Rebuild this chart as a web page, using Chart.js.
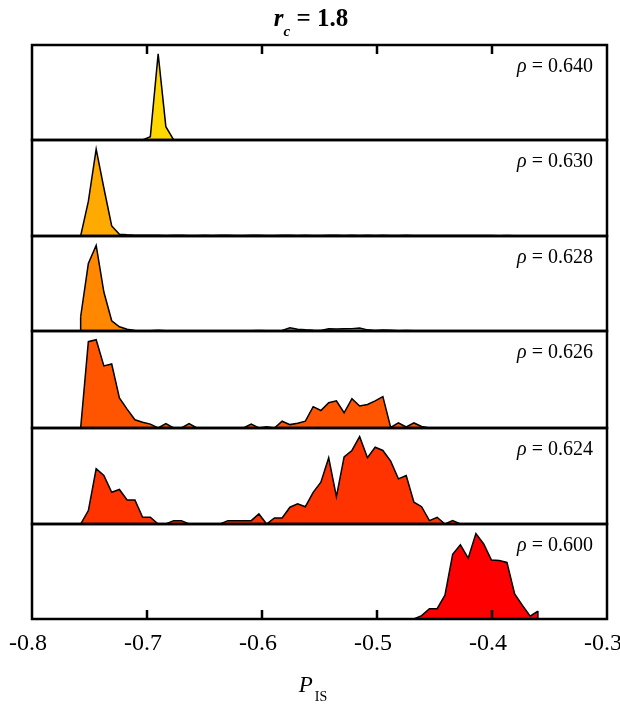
<!DOCTYPE html>
<html>
<head>
<meta charset="utf-8">
<title>P_IS distributions, r_c = 1.8</title>
<script src="https://cdn.jsdelivr.net/npm/chart.js@4.4.1/dist/chart.umd.min.js"></script>
<style>
  html, body { margin: 0; padding: 0; background: #ffffff; }
  #stack { position: relative; width: 620px; height: 705px; overflow: hidden; background: #ffffff; }
  #stack canvas { position: absolute; left: 0; }
</style>
</head>
<body>
<div id="stack"></div>
<script>
// Bin centres of the P_IS histograms (shared by every panel)
const binCenters = [
  -0.7577, -0.7510, -0.7442, -0.7375, -0.7307, -0.7240, -0.7173, -0.7105, -0.7038, -0.6971,
  -0.6903, -0.6836, -0.6768, -0.6701, -0.6634, -0.6566, -0.6499, -0.6431, -0.6364, -0.6297,
  -0.6229, -0.6162, -0.6094, -0.6027, -0.5960, -0.5892, -0.5825, -0.5757, -0.5690, -0.5623,
  -0.5555, -0.5488, -0.5420, -0.5353, -0.5286, -0.5218, -0.5151, -0.5083, -0.5016, -0.4949,
  -0.4881, -0.4814, -0.4746, -0.4679, -0.4612, -0.4544, -0.4477, -0.4409, -0.4342, -0.4275,
  -0.4207, -0.4140, -0.4072, -0.4005, -0.3938, -0.3870, -0.3803, -0.3735, -0.3668, -0.3601
];

// Relative frequency per bin, one array per density
const rho640 = [
  0, 0, 0, 0, 0, 0, 0, 0, 0, 3.5,
  90.6, 14, 0, 0, 0, 0, 0, 0, 0, 0,
  0, 0, 0, 0, 0, 0, 0, 0, 0, 0,
  0, 0, 0, 0, 0, 0, 0, 0, 0, 0,
  0, 0, 0, 0, 0, 0, 0, 0, 0, 0,
  0, 0, 0, 0, 0, 0, 0, 0, 0, 0
];
const rho630 = [
  0, 36, 90.5, 50, 10.5, 1.8, 1.2, 0.9, 0.8, 0.7,
  0.8, 0.6, 0.7, 0.8, 0.6, 0.5, 0.7, 0.6, 0.8, 0.7,
  0.5, 0.6, 0.8, 0.7, 0.6, 0.5, 0.7, 0.8, 0.6, 0.7,
  0.5, 0.6, 0.8, 0.7, 0.6, 0.7, 0.5, 0.7, 0.6, 0.8,
  0.5, 0.6, 0.7, 0.5, 0.6, 0.5, 0.4, 0.5, 0.6, 0.4,
  0.5, 0.4, 0.5, 0.4, 0.3, 0.4, 0.3, 0.3, 0.2, 0
];
const rho628 = [
  15, 71, 90, 41, 10.8, 4.5, 1.8, 0.6, 0.3, 0.3,
  0.8, 0.3, 0.2, 0.1, 0.1, 0.2, 0.1, 0.1, 0.2, 0.1,
  0.1, 0.2, 0.3, 0.6, 0.3, 0.2, 0.5, 3.5, 1.8, 1.2,
  0.8, 0.6, 2.4, 2.1, 2.3, 2.5, 3.1, 1.2, 0.6, 1.0,
  0.8, 0.3, 0.5, 0.2, 0.1, 0, 0, 0, 0, 0,
  0, 0, 0, 0, 0, 0, 0, 0, 0, 0
];
const rho626 = [
  0, 89, 91, 64, 66, 31, 19.5, 8.5, 6, 4,
  0, 4.5, 0, 0, 4.5, 0, 0, 0, 0, 0,
  0, 0, 4, 0, 1.4, 0, 7, 3.5, 5, 7,
  22, 18, 26, 28, 15.7, 30.3, 22.7, 24.3, 28, 32.4,
  0.7, 5.2, 1, 5.2, 1.5, 0, 0, 0, 0, 0,
  0, 0, 0, 0, 0, 0, 0, 0, 0, 0
];
const rho624 = [
  0, 14, 57.5, 50.5, 33, 36, 25, 25, 7, 7,
  0, 0, 3.5, 3.5, 0, 0, 0, 0, 0, 3.5,
  3.5, 3.5, 3.5, 10.5, 0, 6.3, 6.3, 17.5, 21, 18,
  33, 43.5, 69, 28.5, 70, 76.6, 91, 69, 80, 76.6,
  65.5, 47, 50.5, 22.7, 18, 3.5, 7, 0, 3.5, 0,
  0, 0, 0, 0, 0, 0, 0, 0, 0, 0
];
const rho600 = [
  0, 0, 0, 0, 0, 0, 0, 0, 0, 0,
  0, 0, 0, 0, 0, 0, 0, 0, 0, 0,
  0, 0, 0, 0, 0, 0, 0, 0, 0, 0,
  0, 0, 0, 0, 0, 0, 0, 0, 0, 0,
  0, 0, 0, 0, 3.5, 10.8, 10.8, 25, 68, 78,
  64, 90, 79, 62, 61.5, 59.5, 26.5, 14.3, 3, 8.4
];

const panelSeries = [rho640, rho630, rho628, rho626, rho624, rho600];
const rhoLabels = ['0.640', '0.630', '0.628', '0.626', '0.624', '0.600'];
const fillColors = ['#FFD700', '#FFAA00', '#FF8800', '#FF5500', '#FF3300', '#FF0000'];

const xTickValues = [-0.8, -0.7, -0.6, -0.5, -0.4, -0.3];
const xTickLabels = ['-0.8', '-0.7', '-0.6', '-0.5', '-0.4', '-0.3'];

const titleParts = ['r', 'c', ' = 1.8'];
const axisTitleParts = ['P', 'IS'];

// Frame edges of the stacked panels, in page pixels
const panelEdges = [45, 140, 236, 331, 428, 524, 619];
const plotLeft = 32, plotRight = 607, pageWidth = 620, pageHeight = 705;
const SERIF = '"Liberation Serif", "Times New Roman", serif';

Chart.defaults.font.family = SERIF;
Chart.defaults.color = '#000';

// Frame, inward ticks, density label and the page titles for each panel
const panelDecor = {
  id: 'panelDecor',
  afterDatasetsDraw(chart, args, o) {
    const { ctx, chartArea: a, scales: { x, y } } = chart;
    const pts = chart.getDatasetMeta(0).data;
    const vals = chart.data.datasets[0].data;
    const base = y.getPixelForValue(0);
    ctx.save();
    ctx.strokeStyle = '#000';
    ctx.lineCap = 'butt';

    // close the outline where a histogram starts or ends above zero
    ctx.lineWidth = 1.5;
    [0, pts.length - 1].forEach(j => {
      if (vals[j].y > 0) {
        ctx.beginPath();
        ctx.moveTo(pts[j].x, pts[j].y);
        ctx.lineTo(pts[j].x, base);
        ctx.stroke();
      }
    });

    // panel frame
    ctx.lineWidth = 2.5;
    ctx.strokeRect(a.left, a.top, a.right - a.left, a.bottom - a.top);

    // inward tick marks on the outer edges of the stack
    if (o.tickSide) {
      xTickValues.slice(1, -1).forEach(v => {
        const px = x.getPixelForValue(v);
        ctx.beginPath();
        if (o.tickSide === 'top') { ctx.moveTo(px, a.top); ctx.lineTo(px, a.top + 9); }
        else { ctx.moveTo(px, a.bottom); ctx.lineTo(px, a.bottom - 9); }
        ctx.stroke();
      });
    }

    // density label, right aligned in the panel
    ctx.fillStyle = '#000';
    ctx.textAlign = 'left';
    ctx.textBaseline = 'alphabetic';
    const rest = ' = ' + o.rho;
    ctx.font = '20px ' + SERIF;
    const wRest = ctx.measureText(rest).width;
    ctx.font = 'italic 20px ' + SERIF;
    const wRho = ctx.measureText('\u03C1').width;
    const right = a.right - 14, by = a.top + 27;
    ctx.fillText('\u03C1', right - wRest - wRho, by);
    ctx.font = '20px ' + SERIF;
    ctx.fillText(rest, right - wRest, by);

    // overall title above the first panel
    if (o.title) {
      const ty = a.top - 19;
      ctx.font = 'bold italic 25px ' + SERIF;
      const w1 = ctx.measureText(titleParts[0]).width;
      ctx.font = 'bold italic 15px ' + SERIF;
      const w2 = ctx.measureText(titleParts[1]).width;
      ctx.font = 'bold 25px ' + SERIF;
      const w3 = ctx.measureText(titleParts[2]).width;
      let tx = 311 - (w1 + w2 + w3) / 2;
      ctx.font = 'bold italic 25px ' + SERIF;
      ctx.fillText(titleParts[0], tx, ty);
      tx += w1;
      ctx.font = 'bold italic 15px ' + SERIF;
      ctx.fillText(titleParts[1], tx, ty + 10);
      tx += w2;
      ctx.font = 'bold 25px ' + SERIF;
      ctx.fillText(titleParts[2], tx, ty);
    }

    // x axis title under the last panel
    if (o.axisTitle) {
      const ay = a.bottom + 73;
      ctx.font = 'italic 23px ' + SERIF;
      const w1 = ctx.measureText(axisTitleParts[0]).width;
      ctx.font = '14px ' + SERIF;
      const w2 = ctx.measureText(axisTitleParts[1]).width;
      let tx = 313 - (w1 + w2 + 2) / 2;
      ctx.font = 'italic 23px ' + SERIF;
      ctx.fillText(axisTitleParts[0], tx, ay);
      tx += w1 + 2;
      ctx.font = '14px ' + SERIF;
      ctx.fillText(axisTitleParts[1], tx, ay + 9);
    }
    ctx.restore();
  }
};

const stack = document.getElementById('stack');

panelSeries.forEach((values, k) => {
  const isFirst = k === 0;
  const isLast = k === panelSeries.length - 1;
  const top = panelEdges[k], bottom = panelEdges[k + 1];
  const canvasTop = isFirst ? 0 : top - 20;
  const axisBlock = 50;                      // tick label line (30) + padding above and below (2 x 10)
  const canvasBottom = isLast ? pageHeight : bottom + 20;
  const height = canvasBottom - canvasTop;

  const canvas = document.createElement('canvas');
  canvas.width = pageWidth;
  canvas.height = height;
  canvas.style.width = pageWidth + 'px';
  canvas.style.height = height + 'px';
  canvas.style.top = canvasTop + 'px';
  stack.appendChild(canvas);

  new Chart(canvas, {
    type: 'line',
    data: {
      datasets: [{
        data: binCenters.map((xv, i) => ({ x: xv, y: values[i] })),
        backgroundColor: fillColors[k],
        borderColor: '#000',
        borderWidth: 1.5,
        borderJoinStyle: 'miter',
        fill: 'origin',
        pointRadius: 0,
        tension: 0
      }]
    },
    options: {
      responsive: false,
      animation: false,
      devicePixelRatio: 1,
      events: [],
      layout: {
        padding: {
          left: plotLeft,
          right: pageWidth - plotRight,
          top: top - canvasTop,
          bottom: isLast ? canvasBottom - bottom - axisBlock : canvasBottom - bottom
        }
      },
      plugins: {
        legend: { display: false },
        tooltip: { enabled: false },
        title: { display: false },
        panelDecor: {
          rho: rhoLabels[k],
          tickSide: isFirst ? 'top' : (isLast ? 'bottom' : null),
          title: isFirst,
          axisTitle: isLast
        }
      },
      scales: {
        x: {
          type: 'linear',
          min: -0.8,
          max: -0.3,
          display: isLast,
          afterBuildTicks: s => { s.ticks = xTickValues.map(v => ({ value: v })); },
          // end labels may overhang the frame; keep the plot width fixed
          afterFit: s => { s.paddingLeft = 0; s.paddingRight = 0; },
          grid: { display: false, drawTicks: false },
          border: { display: false },
          ticks: {
            autoSkip: false,
            maxRotation: 0,
            padding: 10,
            labelOffset: -4,
            color: '#000',
            font: { family: SERIF, size: 24, lineHeight: 1.25 },
            callback: (v, i) => xTickLabels[i]
          }
        },
        y: { min: 0, max: 100, display: false }
      }
    },
    plugins: [panelDecor]
  });
});
</script>
</body>
</html>
